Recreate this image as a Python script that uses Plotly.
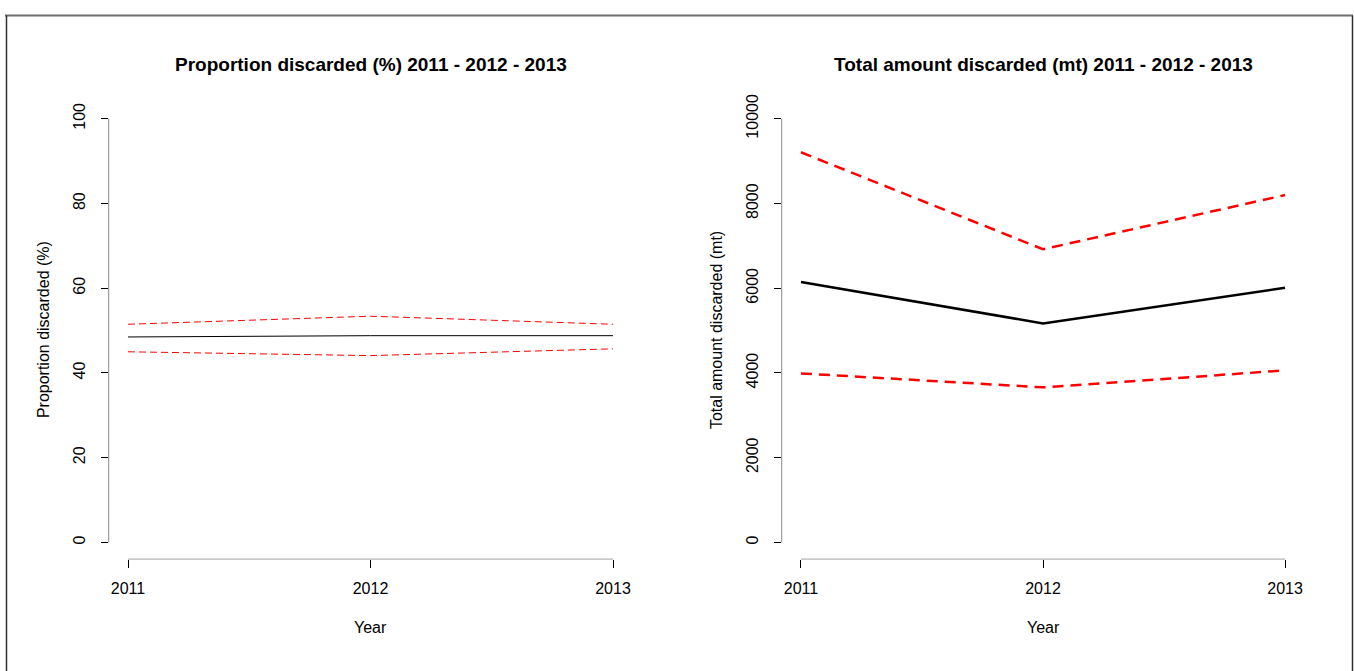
import plotly.graph_objects as go

years = [2011, 2012, 2013]
prop_mean = [48.5, 48.8, 48.8]
prop_upper = [51.5, 53.4, 51.5]
prop_lower = [45.0, 44.1, 45.7]
tot_mean = [6150, 5170, 6010]
tot_upper = [9210, 6920, 8200]
tot_lower = [3990, 3660, 4060]
prop_ticks = [0, 20, 40, 60, 80, 100]
tot_ticks = [0, 2000, 4000, 6000, 8000, 10000]

W, H = 1354, 671
FONT = "Liberation Sans, Arial, sans-serif"

fig = go.Figure()


def px(x):
    return x / W


def py(y):
    return 1 - y / H


# left panel
fig.add_trace(go.Scatter(x=years, y=prop_mean, mode="lines", line=dict(color="black", width=1),
                         xaxis="x", yaxis="y", showlegend=False))
for s in (prop_upper, prop_lower):
    fig.add_trace(go.Scatter(x=years, y=s, mode="lines", line=dict(color="red", width=1, dash="7px,4px"),
                             xaxis="x", yaxis="y", showlegend=False))
# right panel
fig.add_trace(go.Scatter(x=years, y=tot_mean, mode="lines", line=dict(color="black", width=2.5),
                         xaxis="x2", yaxis="y2", showlegend=False))
for s in (tot_upper, tot_lower):
    fig.add_trace(go.Scatter(x=years, y=s, mode="lines", line=dict(color="red", width=2.5, dash="11px,7px"),
                             xaxis="x2", yaxis="y2", showlegend=False))

xr = [2010.92, 2013.08]
common_x = dict(range=xr, tickvals=years, ticktext=[str(y) for y in years], ticks="outside", ticklen=8,
                tickcolor="black", tickwidth=1, showline=False, showgrid=False, zeroline=False,
                tickfont=dict(family=FONT, size=16, color="black"), ticklabelstandoff=6)
common_y = dict(ticks="outside", ticklen=7, tickcolor="black", tickwidth=1, showline=False, showgrid=False,
                zeroline=False, tickangle=-90, tickfont=dict(family=FONT, size=16, color="black"),
                ticklabelstandoff=9)

ydom = [py(558), py(95)]
fig.update_layout(
    width=W, height=H, autosize=False, margin=dict(l=0, r=0, t=0, b=0),
    paper_bgcolor="white", plot_bgcolor="white",
    xaxis=dict(domain=[px(108.6), px(632.4)], anchor="y", **common_x),
    yaxis=dict(domain=ydom, anchor="x", range=[-4, 104], tickvals=prop_ticks,
               ticktext=[str(t) for t in prop_ticks], **common_y),
    xaxis2=dict(domain=[px(781.6), px(1304.4)], anchor="y2", **common_x),
    yaxis2=dict(domain=ydom, anchor="x2", range=[-400, 10400], tickvals=tot_ticks,
                ticktext=[str(t) for t in tot_ticks], **common_y),
)

# axis lines spanning only tick range (R style)
fig.add_shape(type="line", xref="x", yref="y", x0=2011, x1=2013, y0=-4, y1=-4, line=dict(color="black", width=1))
fig.add_shape(type="line", xref="x", yref="y", x0=xr[0], x1=xr[0], y0=0, y1=100, line=dict(color="black", width=1))
fig.add_shape(type="line", xref="x2", yref="y2", x0=2011, x1=2013, y0=-400, y1=-400, line=dict(color="black", width=1))
fig.add_shape(type="line", xref="x2", yref="y2", x0=xr[0], x1=xr[0], y0=0, y1=10000, line=dict(color="black", width=1))

# outer frame (top grey, sides dark)
fig.add_shape(type="line", xref="paper", yref="paper", x0=px(5), x1=px(1353), y0=py(7.5), y1=py(7.5),
              line=dict(color="#707070", width=2))
fig.add_shape(type="line", xref="paper", yref="paper", x0=px(6.5), x1=px(6.5), y0=-0.02, y1=py(7.5),
              line=dict(color="#303030", width=1.5))
fig.add_shape(type="line", xref="paper", yref="paper", x0=px(1352.5), x1=px(1352.5), y0=-0.02, y1=py(7.5),
              line=dict(color="#303030", width=1.5))

ann = [
    ("<b>Proportion discarded (%) 2011 - 2012 - 2013</b>", 370.5, 57, 0, 19),
    ("<b>Total amount discarded (mt) 2011 - 2012 - 2013</b>", 1043, 57, 0, 19),
    ("Year", 370.5, 627, 0, 16),
    ("Year", 1043, 627, 0, 16),
    ("Proportion discarded (%)", 43, 326, -90, 16),
    ("Total amount discarded (mt)", 716, 326, -90, 16),
]
for text, x, y, ang, size in ann:
    fig.add_annotation(text=text, x=px(x), y=py(y), xref="paper", yref="paper", showarrow=False,
                       textangle=ang, xanchor="center", yanchor="middle",
                       font=dict(family=FONT, size=size, color="black"))

fig.write_html("out.html", config={"displayModeBar": False, "responsive": False},
               post_script="document.body.style.margin='0';")
